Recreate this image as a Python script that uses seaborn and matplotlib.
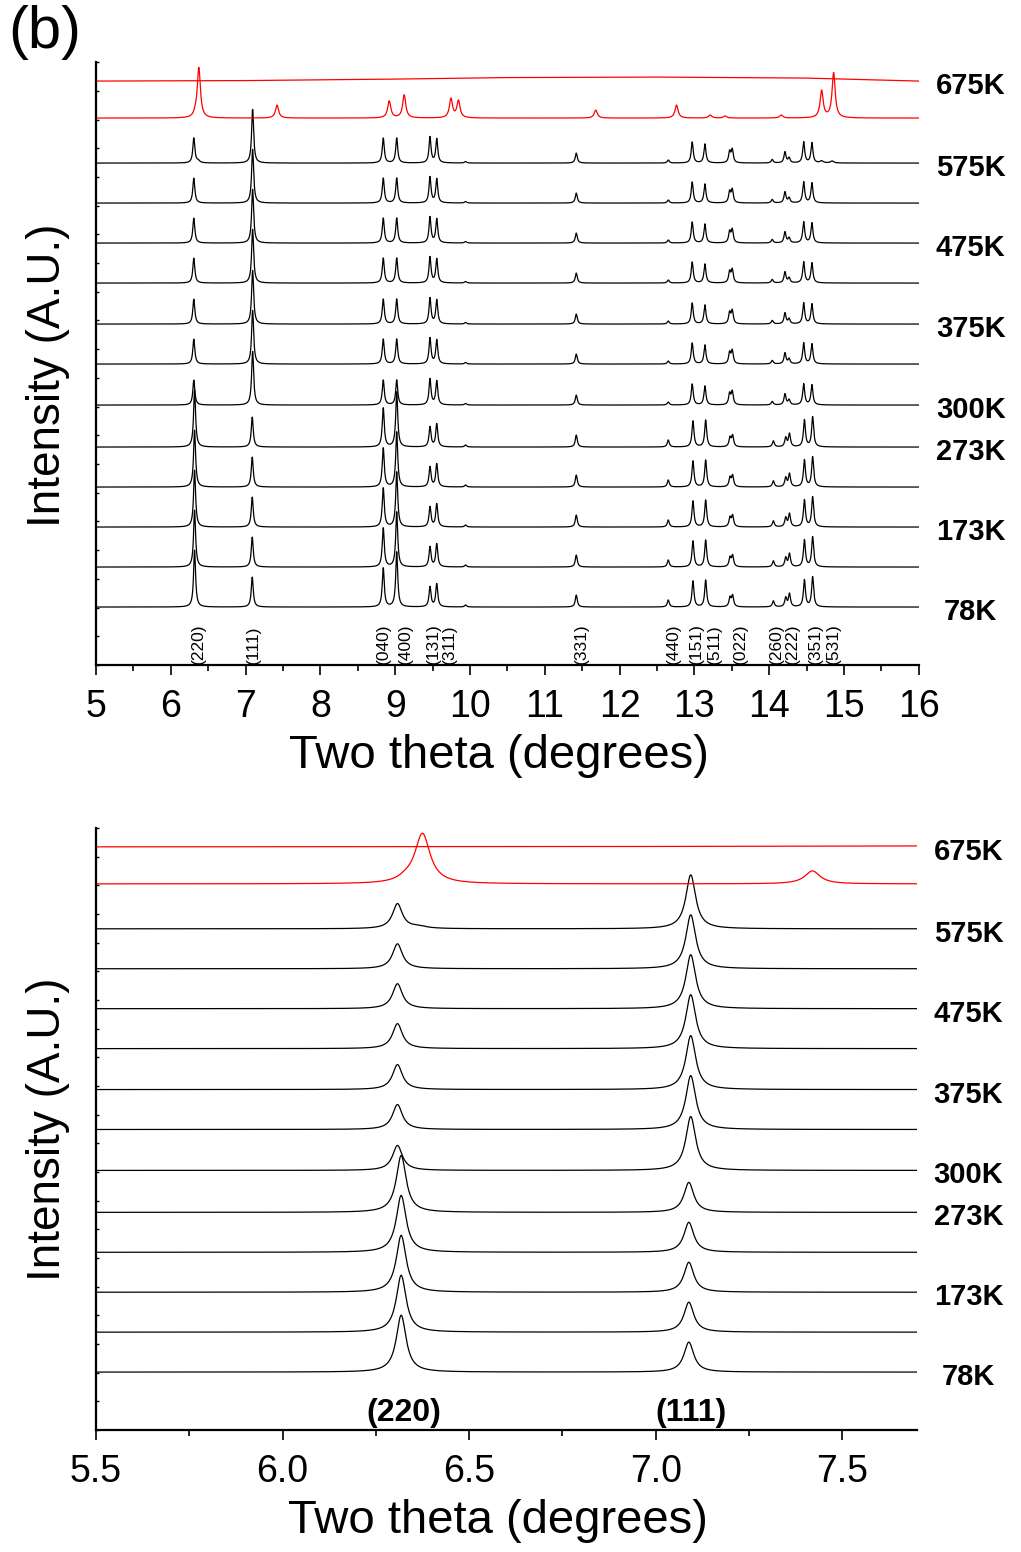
import numpy as np
import matplotlib
matplotlib.use("Agg")
import matplotlib.pyplot as plt
import matplotlib.transforms as mtrans
from matplotlib.ticker import MultipleLocator, FormatStrFormatter
import seaborn as sns

sns.set_theme(style="ticks")
plt.rcParams['font.family'] = ['Liberation Sans', 'DejaVu Sans']
plt.rcParams['text.color'] = 'black'
plt.rcParams['axes.labelcolor'] = 'black'
plt.rcParams['xtick.color'] = 'black'
plt.rcParams['ytick.color'] = 'black'

# traces, bottom to top
temp_labels = ["78K", "", "173K", "", "273K", "300K", "", "375K", "", "475K", "", "575K", "", "675K"]
offsets = [58, 98, 138, 178, 218, 260, 301, 341, 382, 422, 462, 502, 547, 584]
phases = ["low"] * 5 + ["high"] * 7 + ["red", "melt"]

# black patterns: peak positions (2theta) and heights
low_pos = [6.318, 7.089, 8.84, 9.02, 9.465, 9.555, 9.94, 11.42, 12.65, 12.98, 13.15,
           13.475, 13.51, 14.055, 14.22, 14.27, 14.47, 14.58]
low_heights = [57, 30, 39, 55, 20, 23, 2, 12, 7, 26, 27, 9, 11, 6, 9, 13, 27, 30]
high_pos = [6.308, 7.094, 8.84, 9.02, 9.465, 9.555, 9.94, 11.42, 12.65, 12.97, 13.14,
            13.47, 13.505, 14.04, 14.21, 14.265, 14.46, 14.57]
high_heights = [25, 54, 25, 25, 26, 24, 1.5, 10, 3, 21, 19, 11, 13, 3.5, 11, 5, 21, 20]
black_fwhm = 0.032

# leftover bumps on the 575K pattern
extra_575_pos = [6.365, 14.70, 14.84]
extra_575_heights = [2, 2, 2]

# red (high temperature) pattern
red_pos = [6.33, 6.375, 7.42, 8.92, 9.12, 9.745, 9.845, 11.68, 12.76, 13.21, 13.41, 14.16, 14.70, 14.86]
red_heights = [3, 50, 13, 17, 23, 19, 17, 8, 13, 3, 2, 3, 27, 45]
red_fwhm = 0.05

# 675K: featureless, slight hump
melt_x = [5, 7, 9, 10.5, 12.5, 14.5, 16]
melt_y = [0, 0.5, 2, 3.5, 4, 3, 0]

hkl_names = ["(220)", "(111)", "(040)", "(400)", "(131)", "(311)", "(331)", "(440)",
             "(151)", "(511)", "(022)", "(260)", "(222)", "(351)", "(531)"]
hkl_x = [6.37, 7.11, 8.84, 9.13, 9.51, 9.73, 11.49, 12.72, 13.03, 13.27, 13.61,
         14.10, 14.31, 14.61, 14.86]

zoom_names = ["(220)", "(111)"]
zoom_x = [6.325, 7.096]


def pattern(x, pos, heights, fwhm):
    hw = fwhm / 2
    y = np.zeros_like(x)
    for p, h in zip(pos, heights):
        y += h / (1 + ((x - p) / hw) ** 2)
    return y


fig = plt.figure(figsize=(10.21, 15.52), dpi=100)
ax1 = fig.add_axes([0.094, 0.5715, 0.806, 0.3885])
ax2 = fig.add_axes([0.094, 0.0786, 0.804, 0.3879])


def draw_panel(ax, xmin, xmax):
    xs = np.linspace(xmin, xmax, 4001)
    for i, ph in enumerate(phases):
        if ph == "melt":
            if xmin < 6:
                sns.lineplot(x=melt_x, y=np.array(melt_y) + offsets[i], color="red", lw=0.9, ax=ax)
            else:
                sns.lineplot(x=[xmin, xmax], y=[offsets[i], offsets[i]], color="red", lw=0.9, ax=ax)
            continue
        if ph == "red":
            y = pattern(xs, red_pos, red_heights, red_fwhm)
            col = "red"
        elif ph == "low":
            y = pattern(xs, low_pos, low_heights, black_fwhm)
            col = "black"
        else:
            y = pattern(xs, high_pos, high_heights, black_fwhm)
            if temp_labels[i] == "575K":
                y += pattern(xs, extra_575_pos, extra_575_heights, red_fwhm)
            col = "black"
        sns.lineplot(x=xs, y=y + offsets[i], color=col, lw=0.9, ax=ax)

    trans = mtrans.blended_transform_factory(ax.transAxes, ax.transData)
    for i, lab in enumerate(temp_labels):
        if lab:
            ax.text(1.063, offsets[i] - 5, lab, transform=trans, ha="center", va="center",
                    fontsize=21, fontweight="bold", clip_on=False)

    ax.set_xlim(xmin, xmax)
    ax.set_ylim(0, 603)
    ax.set_yticks(np.linspace(0, 603, 22))
    ax.set_yticklabels([])
    ax.tick_params(axis="y", direction="in", length=2.5, width=1)
    ax.tick_params(axis="x", which="major", direction="out", length=7.5, width=1.2,
                   labelsize=27, pad=10)
    ax.tick_params(axis="x", which="minor", direction="out", length=4, width=1.2)
    for s in ["top", "right"]:
        ax.spines[s].set_visible(False)
    for s in ["left", "bottom"]:
        ax.spines[s].set_linewidth(1.6)
        ax.spines[s].set_color("black")
    ax.set_xlabel("Two theta (degrees)", fontsize=34, labelpad=7)
    ax.set_ylabel("Intensity (A.U.)", fontsize=33)
    ax.xaxis.set_label_coords(0.49, 0, transform=mtrans.blended_transform_factory(ax.transAxes, ax.transAxes))
    ax.xaxis.label.set_va("top")
    ax.set_facecolor("white")


draw_panel(ax1, 5, 16)
ax1.xaxis.set_major_locator(MultipleLocator(1))
ax1.xaxis.set_minor_locator(MultipleLocator(0.5))
ax1.yaxis.set_label_coords(-0.032, 0.48)
ax1.xaxis.set_label_coords(0.49, -0.115)
for name, xv in zip(hkl_names, hkl_x):
    ax1.text(xv, 1, name, rotation=90, ha="center", va="bottom", fontsize=12.5)

draw_panel(ax2, 5.5, 7.7)
ax2.xaxis.set_major_locator(MultipleLocator(0.5))
ax2.xaxis.set_minor_locator(MultipleLocator(0.25))
ax2.xaxis.set_major_formatter(FormatStrFormatter("%.1f"))
ax2.yaxis.set_label_coords(-0.032, 0.5)
ax2.xaxis.set_label_coords(0.49, -0.115)
for name, xv in zip(zoom_names, zoom_x):
    ax2.text(xv, 2, name, ha="center", va="bottom", fontsize=23, fontweight="bold")

fig.text(0.008, 0.9968, "(b)", ha="left", va="top", fontsize=43)

fig.savefig("out.png", dpi=100, facecolor="white")
